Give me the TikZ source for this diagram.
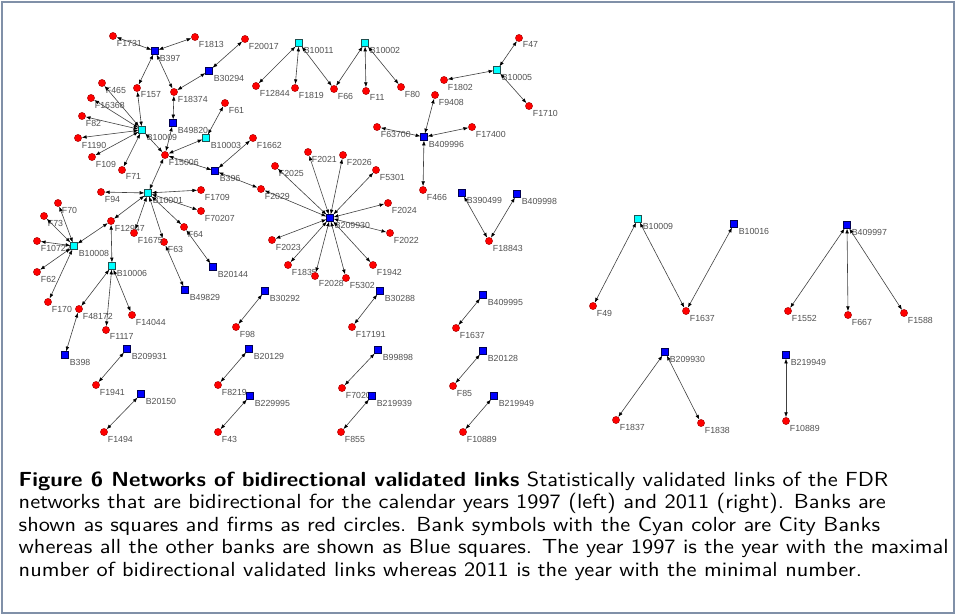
\documentclass[tikz,border=0pt]{standalone}
\usepackage{fontspec}
\newfontfamily\lblfont{Liberation Sans}
\usetikzlibrary{arrows.meta}
\usepackage{xcolor}
\definecolor{FirmRed}{HTML}{FF0000}
\definecolor{FirmEdge}{HTML}{A00000}
\definecolor{BankBlue}{HTML}{0000FF}
\definecolor{BankEdge}{HTML}{000050}
\definecolor{CityCyan}{HTML}{00FFFF}
\definecolor{CityEdge}{HTML}{205050}
\definecolor{LinkGray}{HTML}{404040}
\definecolor{LabelGray}{HTML}{505050}
\definecolor{FrameBlue}{HTML}{8090A8}

\begin{document}
\begin{tikzpicture}[
  x=0.5pt, y=-0.5pt,
  >={Latex[length=2.4pt,width=1.8pt,color=black]},
  link/.style={<->, draw=LinkGray, line width=0.3pt},
  lbl/.style={font=\lblfont\fontsize{4.4}{5}\selectfont, text=LabelGray, inner sep=0.4pt},
  firm/.style={circle, fill=FirmRed, draw=FirmEdge, line width=0.2pt, minimum size=3.6pt, inner sep=0pt, label={[lbl]south east:#1}},
  bank/.style={rectangle, fill=BankBlue, draw=BankEdge, line width=0.25pt, minimum size=3.3pt, inner sep=0pt, label={[lbl]south east:#1}},
  city/.style={bank=#1, fill=CityCyan, draw=CityEdge}
]
\useasboundingbox (0,0) rectangle (956,615);
\draw[FrameBlue, line width=0.6pt] (2,2) rectangle (954,613);

% 1997 - big component
\node[firm=F1731] (F1731) at (113,36) {};
\node[firm=F1813] (F1813) at (195,37) {};
\node[bank=B397] (B397) at (155,51) {};
\node[bank=B30294] (B30294) at (209,71) {};
\node[firm=F20017] (F20017) at (245,39) {};
\node[firm=F465] (F465) at (102,83) {};
\node[firm=F157] (F157) at (137,88) {};
\node[firm=F18374] (F18374) at (174,92) {};
\node[firm=F16368] (F16368) at (91,98) {};
\node[firm=F82] (F82) at (82,116) {};
\node[bank=B49820] (B49820) at (173,123) {};
\node[city=B10009] (B10009) at (142,130) {};
\node[firm=F1190] (F1190) at (78,138) {};
\node[city=B10003] (B10003) at (206,138) {};
\node[firm=F109] (F109) at (92,157) {};
\node[firm=F15006] (F15006) at (165,155) {};
\node[firm=F61] (F61) at (225,103) {};
\node[firm=F71] (F71) at (122,170) {};
\node[firm=F1662] (F1662) at (253,138) {};
\node[bank=B396] (B396) at (215,171) {};
\node[firm=F2029] (F2029) at (261,189) {};
\node[city=B10001] (B10001) at (148,193) {};
\node[firm=F94] (F94) at (101,192) {};
\node[firm=F1709] (F1709) at (201,190) {};
\node[firm=F70207] (F70207) at (201,211) {};
\node[firm=F70] (F70) at (58,203) {};
\node[firm=F73] (F73) at (44,216) {};
\node[firm=F12947] (F12947) at (111,221) {};
\node[firm=F64] (F64) at (184,227) {};
\node[firm=F63] (F63) at (164,242) {};
\node[firm=F1675] (F1675) at (134,233) {};
\node[firm=F10722] (F10722) at (37,241) {};
\node[city=B10008] (B10008) at (74,246) {};
\node[city=B10006] (B10006) at (112,266) {};
\node[bank=B20144] (B20144) at (213,267) {};
\node[firm=F62] (F62) at (37,272) {};
\node[bank=B49829] (B49829) at (185,290) {};
\node[firm=F170] (F170) at (48,302) {};
\node[firm=F48172] (F48172) at (79,309) {};
\node[firm=F14044] (F14044) at (132,315) {};
\node[firm=F1117] (F1117) at (106,330) {};
\node[bank=B398] (B398) at (65,355) {};

% B209930 star
\node[bank=B209930] (B209930) at (330,218) {};
\node[firm=F2021] (F2021) at (308,152) {};
\node[firm=F2026] (F2026) at (343,155) {};
\node[firm=F2025] (F2025) at (275,166) {};
\node[firm=F5301] (F5301) at (376,170) {};
\node[firm=F2024] (F2024) at (388,203) {};
\node[firm=F2022] (F2022) at (390,233) {};
\node[firm=F2023] (F2023) at (272,240) {};
\node[firm=F1942] (F1942) at (373,265) {};
\node[firm=F1835] (F1835) at (288,265) {};
\node[firm=F2028] (F2028) at (315,276) {};
\node[firm=F5302] (F5302) at (346,278) {};

% top components
\node[city=B10011] (B10011) at (299,43) {};
\node[city=B10002] (B10002) at (365,43) {};
\node[firm=F12844] (F12844) at (256,86) {};
\node[firm=F1819] (F1819) at (295,88) {};
\node[firm=F66] (F66) at (334,89) {};
\node[firm=F11] (F11) at (366,91) {};
\node[firm=F80] (F80) at (401,87) {};
\node[firm=F47] (F47) at (519,38) {};
\node[city=B10005] (B10005) at (497,70) {};
\node[firm=F1802] (F1802) at (444,80) {};
\node[firm=F1710] (F1710) at (529,106) {};
\node[firm=F9408] (F9408) at (435,95) {};
\node[firm=F63700] (F63700) at (377,127) {};
\node[bank=B409996] (B409996) at (424,137) {};
\node[firm=F17400] (F17400) at (472,127) {};
\node[firm=F466] (F466) at (423,190) {};
\node[bank=B390499] (B390499) at (462,193) {};
\node[bank=B409998] (B409998) at (517,194) {};
\node[firm=F18843] (F18843) at (489,241) {};

% pairs
\node[bank=B209931] (B209931) at (127,349) {};
\node[firm=F1941] (F1941) at (96,385) {};
\node[bank=B20150] (B20150) at (141,394) {};
\node[firm=F1494] (F1494) at (104,432) {};
\node[bank=B30292] (B30292) at (265,291) {};
\node[firm=F98] (F98) at (236,327) {};
\node[bank=B20129] (B20129) at (249,349) {};
\node[firm=F8219] (F8219) at (218,385) {};
\node[bank=B229995] (B229995) at (250,396) {};
\node[firm=F43] (F43) at (218,432) {};
\node[bank=B30288] (B30288) at (380,291) {};
\node[firm=F17191] (F17191) at (352,327) {};
\node[bank=B99898] (B99898) at (378,350) {};
\node[firm=F7020] (F70204) at (342,388) {};
\node[bank=B219939] (B219939) at (372,396) {};
\node[firm=F855] (F855) at (341,432) {};
\node[bank=B409995] (B409995) at (483,295) {};
\node[firm=F1637] (F1637) at (456,328) {};
\node[bank=B20128] (B20128) at (483,351) {};
\node[firm=F85] (F85) at (453,386) {};
\node[bank=B219949] (B219949) at (494,396) {};
\node[firm=F10889] (F10889) at (463,432) {};

% 2011
\node[city=B10009] (rB10009) at (638,219) {};
\node[bank=B10016] (rB10016) at (734,224) {};
\node[firm=F49] (rF49) at (593,306) {};
\node[firm=F1637] (rF1637) at (686,311) {};
\node[bank=B409997] (rB409997) at (847,225) {};
\node[firm=F1552] (rF1552) at (788,311) {};
\node[firm=F667] (rF667) at (848,315) {};
\node[firm=F1588] (rF1588) at (904,313) {};
\node[bank=B209930] (rB209930) at (665,352) {};
\node[firm=F1837] (rF1837) at (616,420) {};
\node[firm=F1838] (rF1838) at (701,423) {};
\node[bank=B219949] (rB219949) at (786,355) {};
\node[firm=F10889] (rF10889) at (786,421) {};

% Links
\foreach \f in {F1731,F1813,F157,F18374} \draw[link] (B397) -- (\f);
\foreach \f in {F20017,F18374} \draw[link] (B30294) -- (\f);
\foreach \f in {F18374,F15006} \draw[link] (B49820) -- (\f);
\foreach \f in {F465,F16368,F82,F1190,F109,F71,F157,F15006} \draw[link] (B10009) -- (\f);
\foreach \f in {F61,F15006} \draw[link] (B10003) -- (\f);
\foreach \f in {F1662,F15006,F2029} \draw[link] (B396) -- (\f);
\foreach \f in {F15006,F94,F1709,F70207,F64,F63,F1675,F12947} \draw[link] (B10001) -- (\f);
\draw[link] (B20144) -- (F64);
\draw[link] (B49829) -- (F63);
\foreach \f in {F12947,F70,F73,F10722,F62,F170} \draw[link] (B10008) -- (\f);
\foreach \f in {F12947,F48172,F14044,F1117} \draw[link] (B10006) -- (\f);
\draw[link] (B398) -- (F48172);
\foreach \f in {F2021,F2026,F2025,F5301,F2029,F2024,F2022,F2023,F1835,F2028,F5302,F1942} \draw[link] (B209930) -- (\f);
\foreach \f in {F12844,F1819,F66} \draw[link] (B10011) -- (\f);
\foreach \f in {F66,F11,F80} \draw[link] (B10002) -- (\f);
\foreach \f in {F47,F1802,F1710} \draw[link] (B10005) -- (\f);
\foreach \f in {F63700,F9408,F17400,F466} \draw[link] (B409996) -- (\f);
\draw[link] (B390499) -- (F18843);
\draw[link] (B409998) -- (F18843);
\draw[link] (B209931) -- (F1941);
\draw[link] (B20150) -- (F1494);
\draw[link] (B30292) -- (F98);
\draw[link] (B20129) -- (F8219);
\draw[link] (B229995) -- (F43);
\draw[link] (B30288) -- (F17191);
\draw[link] (B99898) -- (F70204);
\draw[link] (B219939) -- (F855);
\draw[link] (B409995) -- (F1637);
\draw[link] (B20128) -- (F85);
\draw[link] (B219949) -- (F10889);
\foreach \f in {rF49,rF1637} \draw[link] (rB10009) -- (\f);
\draw[link] (rB10016) -- (rF1637);
\foreach \f in {rF1552,rF667,rF1588} \draw[link] (rB409997) -- (\f);
\foreach \f in {rF1837,rF1838} \draw[link] (rB209930) -- (\f);
\draw[link] (rB219949) -- (rF10889);

% Caption
\node[anchor=north west, align=left, inner sep=0pt, xscale=1.095, transform shape, font=\sffamily\fontsize{10.2}{11.25}\selectfont] (caption) at (18.3,471)
  {\textbf{Figure 6 Networks of bidirectional validated links} Statistically validated links of the FDR\\
   networks that are bidirectional for the calendar years 1997 (left) and 2011 (right). Banks are\\
   shown as squares and firms as red circles. Bank symbols with the Cyan color are City Banks\\
   whereas all the other banks are shown as Blue squares. The year 1997 is the year with the maximal\\
   number of bidirectional validated links whereas 2011 is the year with the minimal number.};
\end{tikzpicture}
\end{document}
